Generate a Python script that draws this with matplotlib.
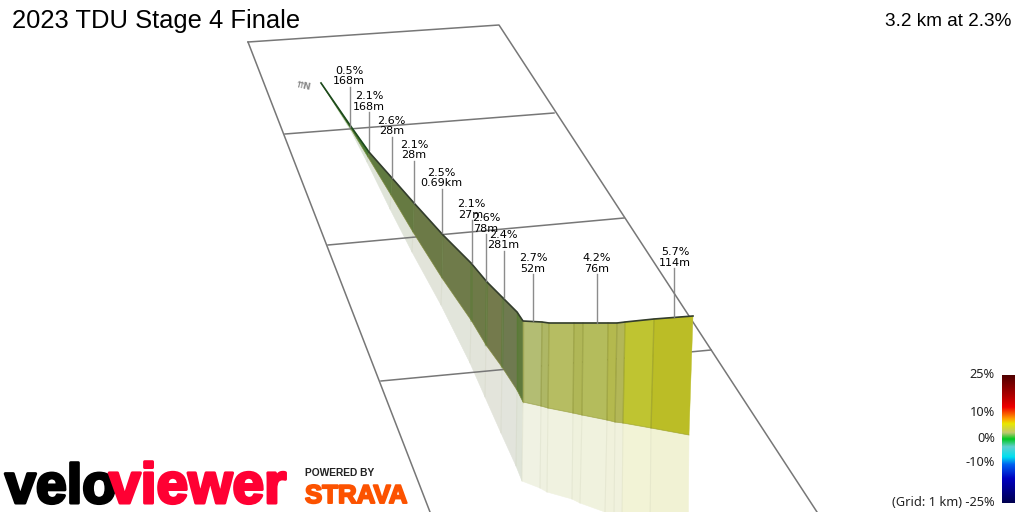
import numpy as np
import matplotlib
matplotlib.use('Agg')
import matplotlib.pyplot as plt
import matplotlib.patheffects as pe
from matplotlib.colors import LinearSegmentedColormap, to_rgb

# road profile as projected on the picture (pixels)
top_x = [321, 352, 369, 392, 414, 443, 471, 487, 503, 517, 523, 542, 549, 574, 583, 608, 617, 625, 654, 693]
top_y = [83, 128, 152, 178, 203, 235, 263, 282, 298, 312, 321, 322, 323, 323, 323, 323, 323, 322, 319, 316]
base_x = [321, 351, 368, 391, 413, 442, 471, 486, 502, 517, 523, 541, 548, 573, 582, 607, 615, 623, 651, 689]
base_y = [83, 129, 157, 195, 232, 278, 320, 345, 367, 390, 402, 406, 408, 413, 415, 420, 422, 423, 428, 435]
shadow_x = [321, 351, 367, 390, 412, 441, 470, 485, 501, 516, 522, 540, 547, 572, 580, 605, 614, 622, 650, 688]
shadow_y = [83, 131, 162, 209, 252, 305, 363, 397, 433, 466, 481, 488, 492, 499, 503, 512, 517, 520, 531, 546]
seg_colors = ['#1f6a1f', '#4a7a35', '#607a40', '#667a42', '#6c7a47', '#6f7b4a', '#6e7a48', '#747a4c',
              '#6f7a50', '#5f7a3c', '#b3bd73', '#aeb765', '#b6bd62', '#b0b757', '#b4bc5c',
              '#b4b94e', '#b3b757', '#bfc431', '#bbbd26']

# grid lines of the ground plane
frame_x = [248, 499, 817]
frame_y = [42, 25, 512]
left_edge_x = [248, 430]
left_edge_y = [42, 512]
grid_x0 = [285, 328, 381]
grid_y0 = [134, 245, 381]
grid_x1 = [554, 624, 711]
grid_y1 = [113, 218, 350]

# climb labels
grades = ['0.5%', '2.1%', '2.6%', '2.1%', '2.5%', '2.1%', '2.6%', '2.4%', '2.7%', '4.2%', '5.7%']
lengths = ['168m', '168m', '28m', '28m', '0.69km', '27m', '78m', '281m', '52m', '76m', '114m']
label_x = [349, 369, 391.5, 414, 441.5, 471, 486, 503.5, 533, 596.5, 675]
label_y = [71, 96, 121, 145, 173, 204, 218, 235, 258, 258, 252]
tip_x = [349.5, 369, 392, 414, 442, 471.5, 486, 504, 533, 596.5, 674]
tip_y = [127, 150, 178, 203, 233, 263, 281, 298, 321, 323, 317]

# gradient legend
scale_labels = ['25%', '10%', '0%', '-10%', '(Grid: 1 km) -25%']
scale_y = [375, 412, 439, 463, 503]
scale_stops = [0.0, 0.19, 0.30, 0.36, 0.44, 0.50, 0.55, 0.62, 0.66, 0.75, 0.84, 1.0]
scale_colors = ['#00004f', '#0000c0', '#0060f0', '#00e0f0', '#60d0d0', '#00c820', '#c0c870', '#e8e800',
                '#ffa000', '#f00000', '#b00000', '#500000']


def pale(color, amount=0.2):
    r = np.array(to_rgb(color))
    return tuple(r * amount + (1 - amount))


fig = plt.figure(figsize=(10.24, 5.12), dpi=100)
ax = fig.add_axes([0, 0, 1, 1])
ax.set_xlim(0, 1024)
ax.set_ylim(512, 0)
ax.axis('off')

# ground grid, it runs over the shadow and behind the wall
ax.plot(frame_x, frame_y, color='#777777', lw=1.1, zorder=2)
ax.plot(left_edge_x, left_edge_y, color='#777777', lw=1.1, zorder=2)
for x0, y0, x1, y1 in zip(grid_x0, grid_y0, grid_x1, grid_y1):
    ax.plot([x0, x1], [y0, y1], color='#777777', lw=1.1, zorder=2)

# wall and its shadow, one quad per segment
for i, c in enumerate(seg_colors):
    sx = [base_x[i], base_x[i + 1], shadow_x[i + 1], shadow_x[i]]
    sy = [base_y[i], base_y[i + 1], shadow_y[i + 1], shadow_y[i]]
    ax.fill(sx, sy, color=pale(c), lw=0.4, zorder=1)
    wx = [top_x[i], top_x[i + 1], base_x[i + 1], base_x[i]]
    wy = [top_y[i], top_y[i + 1], base_y[i + 1], base_y[i]]
    ax.fill(wx, wy, color=c, lw=0.3, zorder=3)
for i in range(2, len(top_x) - 1):
    band = 470 < top_x[i] < 510
    line_color = '#4f7a2c' if top_x[i] < 520 else '#7a8020'
    ax.plot([top_x[i], base_x[i]], [top_y[i], base_y[i]], color=line_color,
            alpha=0.35 if top_x[i] > 450 else 0.18, lw=1.8 if band else 1.0, zorder=4)
    ax.plot([base_x[i], shadow_x[i]], [base_y[i], shadow_y[i]], color='#c0c4a8', alpha=0.2, lw=0.8, zorder=1.5)
ax.plot(base_x, base_y, color='#8a9030', alpha=0.4, lw=0.7, zorder=4)
ax.plot(top_x[:3], top_y[:3], color='#1d4a1d', lw=1.2, zorder=5)
ax.plot(top_x[2:], top_y[2:], color='#333d2d', lw=1.2, zorder=5)

# leaders and labels
for g, l, x, y, tx, ty in zip(grades, lengths, label_x, label_y, tip_x, tip_y):
    ax.plot([tx, tx], [y + 16, ty], color='#808080', lw=1, alpha=0.9, zorder=6)
    ax.text(x, y, g, fontsize=8, ha='center', va='center', color='black', zorder=7)
    ax.text(x, y + 10.5, l, fontsize=8, ha='center', va='center', color='black', zorder=7)

# north marker
ax.text(303.5, 86, '⇈N', fontsize=6.5, color='#8a8a8a', fontweight='bold', rotation=-12,
        ha='center', va='center')

# title
ax.text(12, 21, '2023 TDU Stage 4 Finale', fontsize=18.4, family='Liberation Sans', ha='left', va='center')
ax.text(1011, 22, '3.2 km at 2.3%', fontsize=13.7, family='Liberation Sans', ha='right', va='center')

# gradient scale
cmap = LinearSegmentedColormap.from_list('grade', list(zip(scale_stops, scale_colors)))
ax.imshow(np.linspace(1, 0, 256).reshape(-1, 1), cmap=cmap, extent=[1002, 1015, 503, 375],
          aspect='auto', zorder=3)
ax.set_xlim(0, 1024)
ax.set_ylim(512, 0)
for t, y in zip(scale_labels, scale_y):
    ax.text(995, y, t, fontsize=9.2, family='Noto Sans', ha='right', va='center', color='#222222')

# logos
stroke = [pe.withStroke(linewidth=2.2, foreground='#000000')]
ax.text(5, 503, 'velo', fontsize=40, fontweight='bold', family='Liberation Sans', color='black',
        ha='left', va='baseline', path_effects=stroke, zorder=8)
stroke = [pe.withStroke(linewidth=2.2, foreground='#ff0033')]
ax.text(109, 503, 'viewer', fontsize=41, fontweight='bold', family='Liberation Sans', color='#ff0033',
        ha='left', va='baseline', path_effects=stroke, zorder=8)
ax.text(305, 473.5, 'POWERED BY', fontsize=7.4, fontweight='bold', family='Liberation Sans', color='#222222',
        ha='left', va='center')
stroke = [pe.withStroke(linewidth=1.4, foreground='#fc5200')]
ax.text(305, 503, 'STRAVA', fontsize=18.6, fontweight='bold', family='Liberation Sans', color='#fc5200',
        ha='left', va='baseline', path_effects=stroke)

plt.savefig('out.png', dpi=100)
plt.close()
